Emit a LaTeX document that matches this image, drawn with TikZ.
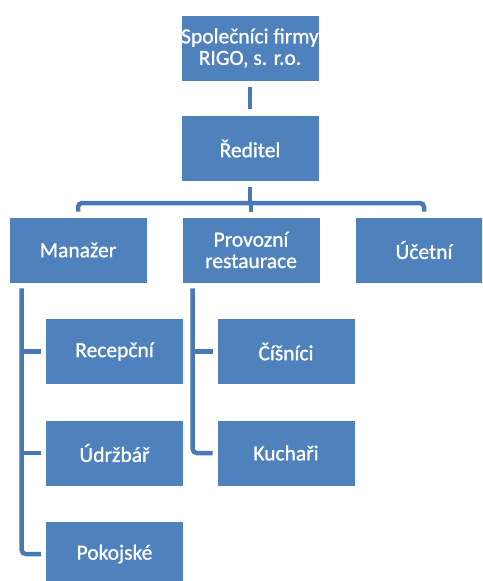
\documentclass[tikz,border=0pt]{standalone}
\usepackage{fontspec}
\setmainfont{Carlito}
\newfontfamily\boxfont{Carlito}[FakeBold=1]
\definecolor{boxblue}{HTML}{4F81BD}
\definecolor{lineblue}{HTML}{4A78B4}
\begin{document}
\begin{tikzpicture}[x=1pt,y=-1pt,
  box/.style={fill=boxblue, draw=white, line width=0.6pt, minimum width=138pt, minimum height=66pt,
    text=white, align=center, font=\boxfont\fontsize{21.5}{21.5}\selectfont, inner sep=0pt},
  conn/.style={draw=lineblue, line width=4.5pt, rounded corners=4pt, line cap=butt}]
\useasboundingbox (0,0) rectangle (482,581);
\clip (0,0) rectangle (482,581);
\node[box] (top) at (250,48) {Společníci firmy\\RIGO, s. r.o.};
\node[box] (dir) at (250,148.5) {Ředitel};
\node[box] (man) at (78,250) {Manažer};
\node[box] (prov) at (251,250) {Provozní\\restaurace};
\node[box] (ucet) at (424,250) {Účetní};
\node[box] (rec) at (114.5,351.5) {Recepční};
\node[box] (udr) at (114.5,453) {Údržbář};
\node[box] (pok) at (114.5,554) {Pokojské};
\node[box] (cis) at (286,351.5) {Číšníci};
\node[box] (kuc) at (286,453) {Kuchaři};
% top to director
\draw[conn] ([yshift=-6pt]top.south) -- ([yshift=6pt]dir.north);
% bus
\coordinate (bus) at (0,203);
\draw[conn] ([yshift=-5pt]dir.south) -- (dir.south |- bus);
\draw[conn] ([yshift=5pt]man.north) |- (ucet.north |- bus) -- ([yshift=5pt]ucet.north);
\draw[conn] ([yshift=5pt]prov.north) -- (prov.north |- bus);
% manager branch
\coordinate (mx) at ([xshift=13pt,yshift=-5pt]man.south west);
\draw[conn] (mx) |- ([xshift=-4pt]pok.west);
\draw[conn] (mx |- rec.west) -- ([xshift=-4pt]rec.west);
\draw[conn] (mx |- udr.west) -- ([xshift=-4pt]udr.west);
% provozni branch
\coordinate (px) at ([xshift=11pt,yshift=-5pt]prov.south west);
\draw[conn] (px) |- ([xshift=-4pt]kuc.west);
\draw[conn] (px |- cis.west) -- ([xshift=-4pt]cis.west);
\end{tikzpicture}
\end{document}
